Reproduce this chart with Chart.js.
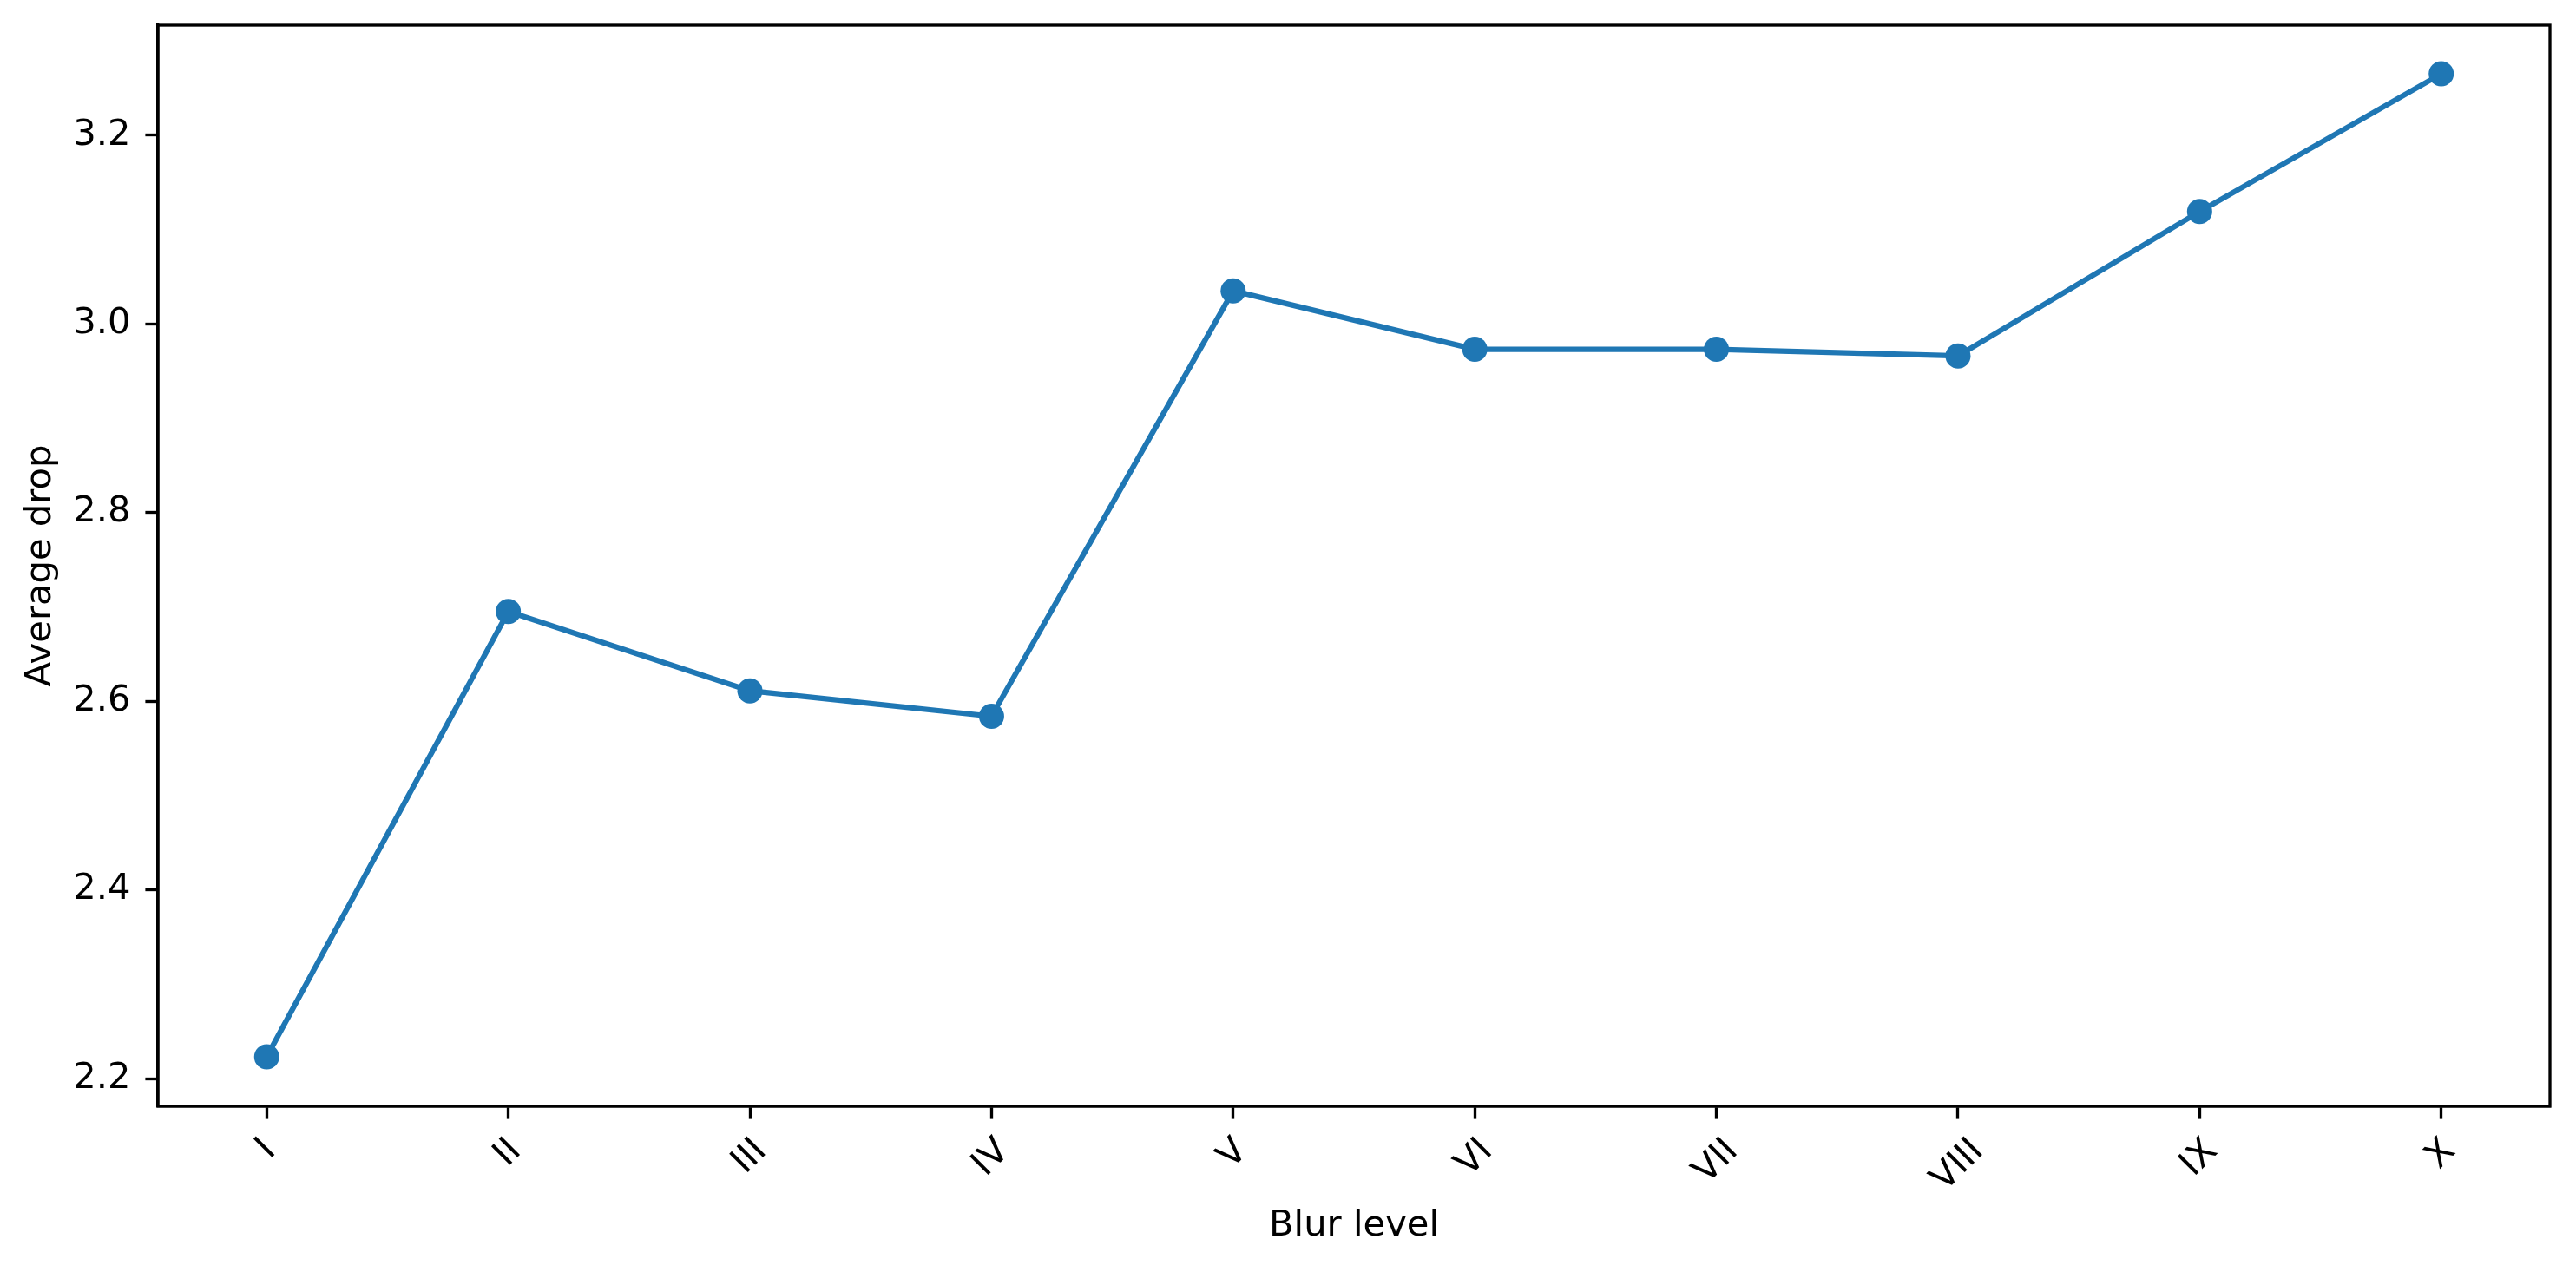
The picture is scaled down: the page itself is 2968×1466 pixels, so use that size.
<!DOCTYPE html>
<html>
<head>
<meta charset="utf-8">
<script src="https://cdn.jsdelivr.net/npm/chart.js@4/dist/chart.umd.min.js"></script>
<style>
  html, body { margin: 0; padding: 0; background: #fff; }
  canvas { display: block; }
</style>
</head>
<body>
<canvas id="chart" width="2968" height="1466"></canvas>
<script>
// Data
const levels   = ['I', 'II', 'III', 'IV', 'V', 'VI', 'VII', 'VIII', 'IX', 'X'];
const avgDrop  = [2.223, 2.695, 2.611, 2.584, 3.035, 2.973, 2.973, 2.966, 3.119, 3.265];
const yTicks   = [2.2, 2.4, 2.6, 2.8, 3.0, 3.2];

const FONT  = 'DejaVu Sans';
const FS    = 41.67;   // 10pt @ 300dpi
const LINE  = 3.33;    // 0.8pt axes
const TICK  = 14.6;    // 3.5pt tick length
const BLUE  = '#1f77b4';

// matplotlib-like frame + centred rotated x labels
const framePlugin = {
  id: 'frame',
  afterDraw(chart) {
    const { ctx, chartArea: a, scales } = chart;
    ctx.save();
    ctx.strokeStyle = '#000';
    ctx.lineWidth = LINE;
    ctx.strokeRect(a.left, a.top, a.right - a.left, a.bottom - a.top);

    ctx.font = `${FS}px "${FONT}"`;
    ctx.fillStyle = '#000';
    ctx.textAlign = 'center';
    ctx.textBaseline = 'middle';
    const h = FS * 1.1;
    scales.x.ticks.forEach(t => {
      const label = levels[t.value];
      const w = ctx.measureText(label).width;
      const bbox = (w + h) * Math.SQRT1_2;
      const x = scales.x.getPixelForValue(t.value);
      const y = a.bottom + TICK + 14.6 + bbox / 2;
      ctx.save();
      ctx.translate(x, y);
      ctx.rotate(-Math.PI / 4);
      ctx.fillText(label, 0, 0);
      ctx.restore();
    });
    ctx.restore();
  }
};

new Chart(document.getElementById('chart').getContext('2d'), {
  type: 'line',
  data: {
    datasets: [{
      label: 'Average drop',
      data: avgDrop.map((v, i) => ({ x: i, y: v })),
      borderColor: BLUE,
      backgroundColor: BLUE,
      borderWidth: 6.25,
      pointRadius: 14.5,
      pointHoverRadius: 14.5,
      pointBorderWidth: 0,
      pointBackgroundColor: BLUE,
      tension: 0,
      fill: false
    }]
  },
  options: {
    responsive: false,
    animation: false,
    devicePixelRatio: 1,
    layout: { padding: { top: 29, right: 30, left: 0, bottom: 0 } },
    plugins: { legend: { display: false }, tooltip: { enabled: false } },
    scales: {
      x: {
        type: 'linear',
        min: -0.45,
        max: 9.45,
        afterBuildTicks: s => { s.ticks = levels.map((_, i) => ({ value: i })); },
        afterFit: s => { s.height = 191; s.paddingLeft = 0; s.paddingRight = 0; },
        ticks: { display: false },
        grid: { drawOnChartArea: false, drawTicks: true, tickLength: TICK, tickWidth: LINE, tickColor: '#000' },
        border: { display: true, color: '#000', width: LINE },
        title: {
          display: true, text: 'Blur level', color: '#000',
          font: { family: FONT, size: FS, lineHeight: 1.2 },
          padding: { top: 0, bottom: 28 }
        }
      },
      y: {
        type: 'linear',
        min: 2.1706,
        max: 3.3166,
        afterBuildTicks: s => { s.ticks = yTicks.map(v => ({ value: v })); },
        afterFit: s => { s.width = 182; s.paddingTop = 0; s.paddingBottom = 0; },
        ticks: {
          color: '#000', padding: 17,
          font: { family: FONT, size: FS },
          callback: v => v.toFixed(1)
        },
        grid: { drawOnChartArea: false, drawTicks: true, tickLength: TICK, tickWidth: LINE, tickColor: '#000' },
        border: { display: true, color: '#000', width: LINE },
        title: {
          display: true, text: 'Average drop', color: '#000',
          font: { family: FONT, size: FS, lineHeight: 1.2 },
          padding: { top: 22, bottom: 0 }
        }
      }
    }
  },
  plugins: [framePlugin]
});
</script>
</body>
</html>
